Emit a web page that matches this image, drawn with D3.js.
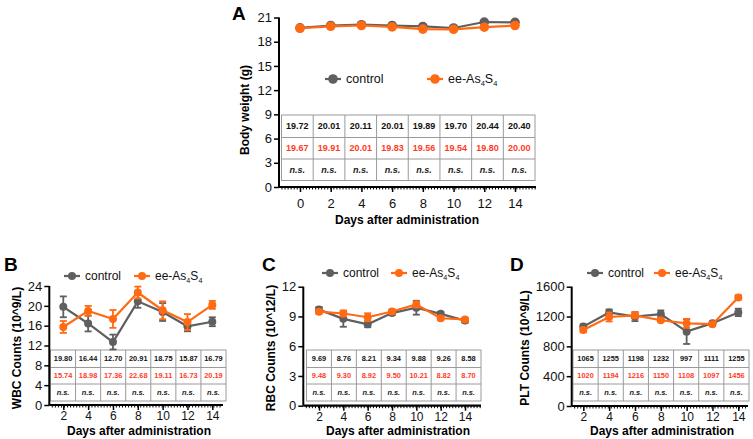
<!DOCTYPE html>
<html><head><meta charset="utf-8">
<script src="https://cdn.jsdelivr.net/npm/d3@7"></script>
<style>body{margin:0;background:#fff}svg{display:block;font-family:"Liberation Sans",Arial,sans-serif}</style>
</head><body>
<svg id="c" width="753" height="439"></svg>
<script>
// ---------- data ----------
const daysA = [0,2,4,6,8,10,12,14];
const bwControl = [19.72,20.01,20.11,20.01,19.89,19.70,20.44,20.40];
const bwEE      = [19.67,19.91,20.01,19.83,19.56,19.54,19.80,20.00];
const bwTicks = [0,3,6,9,12,15,18,21];

const daysB = [2,4,6,8,10,12,14];
const wbcControl = [19.80,16.44,12.70,20.91,18.75,15.87,16.79];
const wbcControlErr = [2.1,1.6,1.5,1.3,1.8,1.0,0.9];
const wbcEE = [15.74,18.98,17.36,22.68,19.11,16.73,20.19];
const wbcEEErr = [1.2,1.0,1.8,1.2,1.8,1.6,0.8];
const wbcTicks = [0,4,8,12,16,20,24];

const rbcControl = [9.69,8.76,8.21,9.34,9.88,9.26,8.58];
const rbcControlErr = [0.25,0.8,0.3,0.2,0.7,0.2,0.2];
const rbcEE = [9.48,9.30,8.92,9.50,10.21,8.82,8.70];
const rbcEEErr = [0.2,0.3,0.4,0.2,0.3,0.2,0.15];
const rbcTicks = [0,3,6,9,12];

const pltControl = [1065,1255,1198,1232,997,1111,1255];
const pltControlErr = [30,40,60,50,165,20,50];
const pltEE = [1020,1194,1216,1150,1108,1097,1456];
const pltEEErr = [30,60,40,20,60,20,30];
const pltTicks = [0,400,800,1200,1600];

const GRAY = "#5f5f5f", ORANGE = "#ff6a13", RED = "#ff3b1f";
const svg = d3.select("#c");

function panel(o){
  const g = svg.append("g");
  const x = d3.scaleLinear().domain([o.days[0], o.days[o.days.length-1]]).range([o.x0, o.x1]);
  const y = d3.scaleLinear().domain([0, o.yMax]).range([o.yBottom, o.yTop]);

  g.append("text").attr("x", o.letterX).attr("y", o.letterY).text(o.letter)
    .attr("font-size", 19).attr("font-weight", "bold");

  // table
  const nC = o.days.length;
  const tw = (o.tRight - o.tLeft)/nC;
  const rowsY = o.tRows;
  const tg = g.append("g");
  tg.append("rect").attr("x", o.tLeft).attr("y", rowsY[0]).attr("width", o.tRight-o.tLeft)
    .attr("height", rowsY[3]-rowsY[0]).attr("fill", "#fff").attr("stroke", "#9a9a9a").attr("stroke-width", 1);
  for (let i=1;i<nC;i++) tg.append("line").attr("x1", o.tLeft+i*tw).attr("x2", o.tLeft+i*tw)
    .attr("y1", rowsY[0]).attr("y2", rowsY[3]).attr("stroke", "#9a9a9a");
  [1,2].forEach(r => tg.append("line").attr("x1", o.tLeft).attr("x2", o.tRight)
    .attr("y1", rowsY[r]).attr("y2", rowsY[r]).attr("stroke", "#9a9a9a"));
  const fmt = o.fmt;
  [[o.ctrl, "#111"], [o.ee, RED]].forEach((row, r) => {
    row[0].forEach((v,i) => tg.append("text").attr("x", o.tLeft+(i+0.5)*tw)
      .attr("y", (rowsY[r]+rowsY[r+1])/2).attr("dy", "0.36em").attr("text-anchor", "middle")
      .attr("font-size", o.tFont).attr("font-weight", "bold").attr("fill", row[1]).text(fmt(v)));
  });
  o.days.forEach((d,i) => tg.append("text").attr("x", o.tLeft+(i+0.5)*tw)
    .attr("y", (rowsY[2]+rowsY[3])/2).attr("dy", "0.36em").attr("text-anchor", "middle")
    .attr("font-size", o.tFont).attr("font-weight", "bold").attr("font-style", "italic").attr("fill", "#222").text("n.s."));

  // series
  const series = [[o.ctrl, o.ctrlErr, GRAY],[o.ee, o.eeErr, ORANGE]];
  series.forEach(([vals, errs, col]) => {
    const sg = g.append("g");
    if (errs) vals.forEach((v,i) => {
      const cx = x(o.days[i]);
      sg.append("line").attr("x1", cx).attr("x2", cx).attr("y1", y(v-errs[i])).attr("y2", y(v+errs[i]))
        .attr("stroke", col).attr("stroke-width", 1.8);
      [v-errs[i], v+errs[i]].forEach(e => sg.append("line").attr("x1", cx-3.5).attr("x2", cx+3.5)
        .attr("y1", y(e)).attr("y2", y(e)).attr("stroke", col).attr("stroke-width", 1.8));
    });
    sg.append("path").attr("d", d3.line().x((v,i)=>x(o.days[i])).y(v=>y(v))(vals))
      .attr("fill", "none").attr("stroke", col).attr("stroke-width", 2.2);
    vals.forEach((v,i) => sg.append("circle").attr("cx", x(o.days[i])).attr("cy", y(v))
      .attr("r", o.r).attr("fill", col));
  });

  // y axis
  const ya = g.append("g").attr("transform", `translate(${o.yAxisX},0)`)
    .call(d3.axisLeft(y).tickValues(o.yTicks).tickSize(5).tickPadding(2).tickFormat(d3.format("d")));
  ya.select(".domain").attr("stroke-width", 2).attr("d", `M0,${o.yBottom}V${o.yTop}`);
  ya.selectAll(".tick line").attr("stroke-width", 1.5);
  ya.selectAll("text").attr("font-size", o.tickFont).attr("fill", "#111");

  // x axis
  const xa = g.append("g").attr("transform", `translate(0,${o.yBottom})`);
  xa.call(d3.axisBottom(x).tickValues(o.days).tickSize(5).tickPadding(o.xPad));
  xa.select(".domain").attr("stroke-width", 2.2).attr("d", `M${o.yAxisX},0H${o.axisEnd}`);
  xa.selectAll(".tick line").attr("stroke-width", 1.5);
  xa.selectAll("text").attr("font-size", o.xTickFont).attr("fill", "#111");
  const minor = d3.range(o.yAxisX+3, o.axisEnd, 3.05);
  xa.selectAll(".mn").data(minor).join("line").attr("class","mn")
    .attr("x1", d=>d).attr("x2", d=>d).attr("y1", 0).attr("y2", 2.5).attr("stroke", "#000").attr("stroke-width", 1);

  // axis titles
  g.append("text").attr("x", o.xTitleX).attr("y", o.xTitleY).attr("text-anchor", "middle")
    .attr("font-size", 12).attr("font-weight", "bold").text("Days after administration");
  g.append("text").attr("transform", `translate(${o.yTitleX},${o.yTitleY}) rotate(-90)`)
    .attr("text-anchor", "middle").attr("font-size", 12).attr("font-weight", "bold").text(o.yTitle);

  // legend
  const lg = g.append("g");
  [[o.legC, GRAY, "control"],[o.legE, ORANGE, null]].forEach(([lx, col, lab]) => {
    lg.append("line").attr("x1", lx-8).attr("x2", lx+8).attr("y1", o.legY).attr("y2", o.legY)
      .attr("stroke", col).attr("stroke-width", 2.2);
    lg.append("circle").attr("cx", lx).attr("cy", o.legY).attr("r", o.r).attr("fill", col);
    const t = lg.append("text").attr("x", lx+13).attr("y", o.legY).attr("dy", "0.35em")
      .attr("font-size", o.legFont).attr("fill", "#111");
    if (lab) t.text(lab);
    else {
      t.append("tspan").text("ee-As");
      t.append("tspan").attr("font-size", o.legFont*0.6).attr("dy", 3).text("4");
      t.append("tspan").attr("dy", -3).text("S");
      t.append("tspan").attr("font-size", o.legFont*0.6).attr("dy", 3).text("4");
    }
  });
}

const f2 = d => d.toFixed(2), f0 = d => String(d);
panel({letter:"A", letterX:232, letterY:20, days:daysA, ctrl:bwControl, ee:bwEE, ctrlErr:null, eeErr:null,
  x0:300, x1:515, yAxisX:279, axisEnd:536, yBottom:187, yTop:17.5, yMax:21, yTicks:bwTicks,
  tLeft:281.5, tRight:535, tRows:[115,137.5,159,180.5], tFont:9, fmt:f2, r:4.8, tickFont:13, xTickFont:13, xPad:7,
  xTitleX:407, xTitleY:224, yTitleX:249, yTitleY:110, yTitle:"Body weight (g)",
  legC:333, legE:435, legY:79, legFont:12.5});
panel({letter:"B", letterX:4, letterY:271, days:daysB, ctrl:wbcControl, ee:wbcEE, ctrlErr:wbcControlErr, eeErr:wbcEEErr,
  x0:63.3, x1:212.3, yAxisX:49.3, axisEnd:223, yBottom:405, yTop:286, yMax:24, yTicks:wbcTicks,
  tLeft:50.5, tRight:226, tRows:[350,367.5,384,401], tFont:7.4, fmt:f2, r:4, tickFont:13, xTickFont:12, xPad:1.5,
  xTitleX:139, xTitleY:435, yTitleX:21, yTitleY:348, yTitle:"WBC Counts (10^9/L)",
  legC:72, legE:142, legY:276, legFont:12});
panel({letter:"C", letterX:262, letterY:271, days:daysB, ctrl:rbcControl, ee:rbcEE, ctrlErr:rbcControlErr, eeErr:rbcEEErr,
  x0:319, x1:465, yAxisX:303.3, axisEnd:481, yBottom:405.7, yTop:286.7, yMax:12, yTicks:rbcTicks,
  tLeft:306.5, tRight:481, tRows:[350,367.5,384,401], tFont:7.4, fmt:f2, r:4, tickFont:13, xTickFont:12, xPad:1.5,
  xTitleX:398, xTitleY:435, yTitleX:275, yTitleY:348, yTitle:"RBC Counts (10^12/L)",
  legC:330, legE:399, legY:273, legFont:12});
panel({letter:"D", letterX:510, letterY:271, days:daysB, ctrl:pltControl, ee:pltEE, ctrlErr:pltControlErr, eeErr:pltEEErr,
  x0:583.3, x1:738.3, yAxisX:571.7, axisEnd:748, yBottom:406, yTop:286.7, yMax:1600, yTicks:pltTicks,
  tLeft:573, tRight:749, tRows:[350,367.5,384,401], tFont:7.4, fmt:f0, r:4, tickFont:13, xTickFont:12, xPad:1.5,
  xTitleX:662, xTitleY:435, yTitleX:529, yTitleY:348, yTitle:"PLT Counts (10^9/L)",
  legC:595, legE:662, legY:273, legFont:12});
</script>
</body></html>
